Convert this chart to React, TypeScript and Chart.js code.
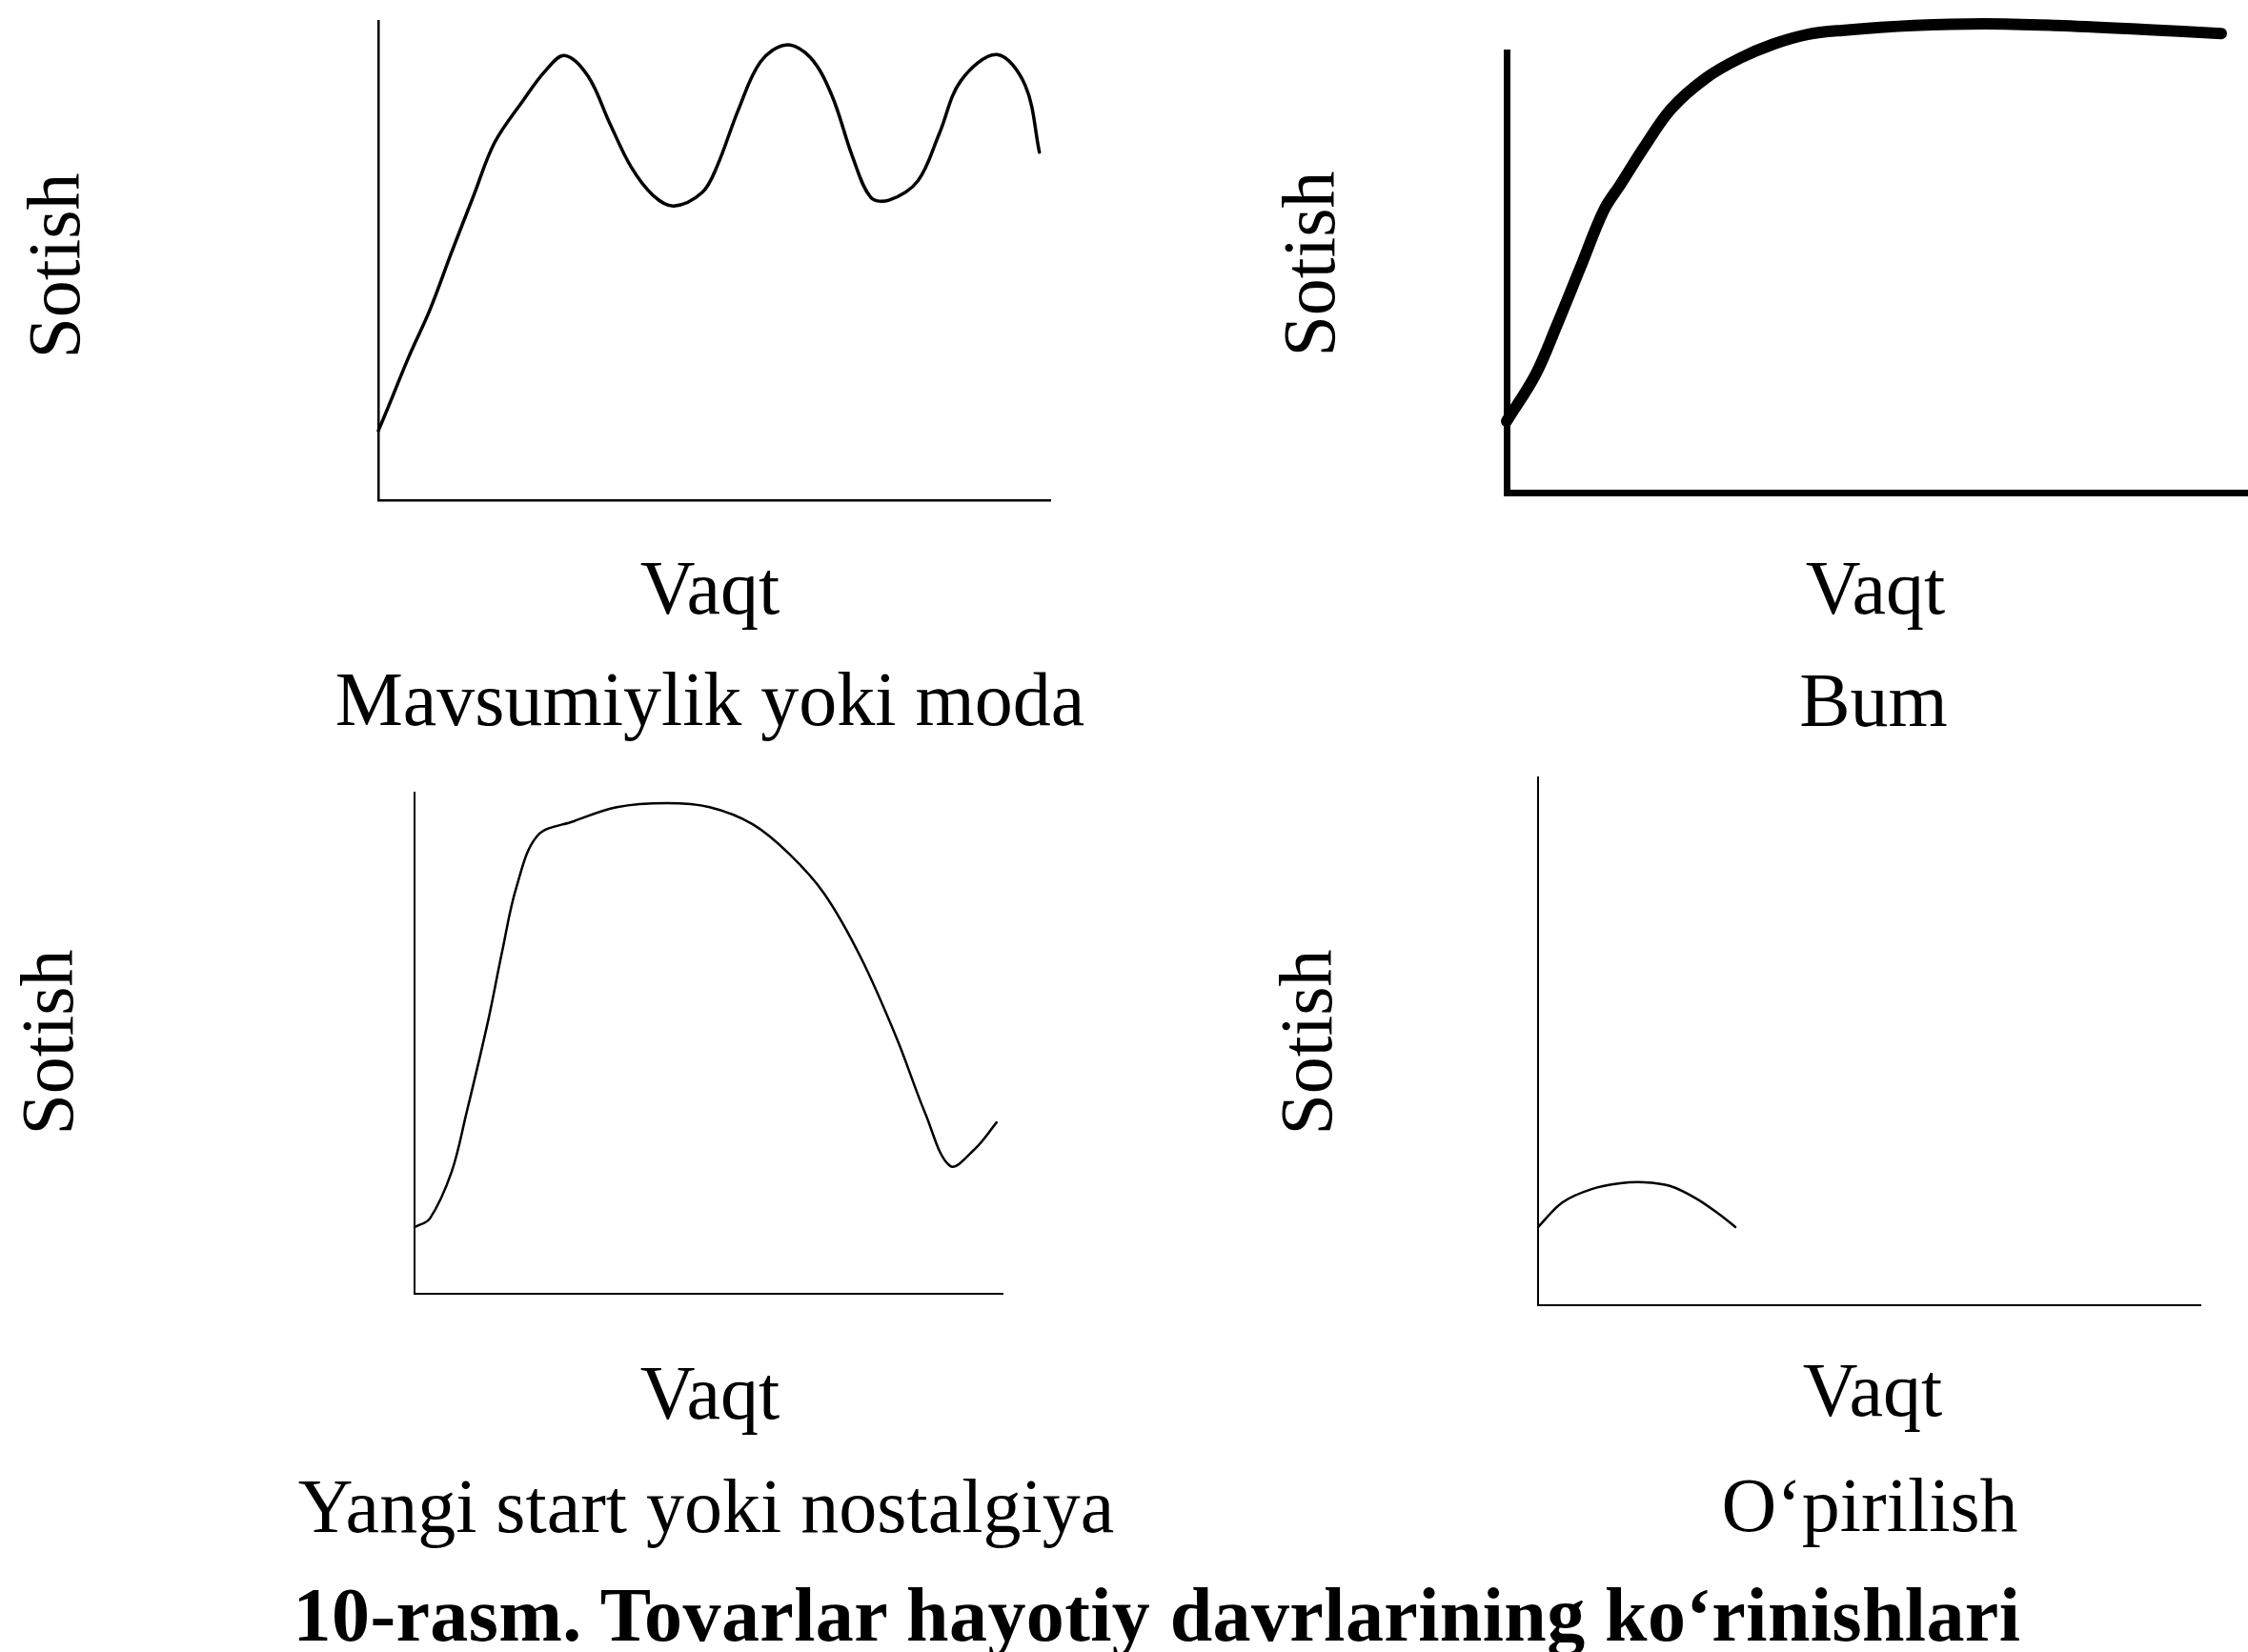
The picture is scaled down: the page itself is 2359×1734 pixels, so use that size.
import React, { useEffect, useRef } from "react";
import { Chart, registerables } from "chart.js";

Chart.register(...registerables);

// ---------- data (time = % of x-axis length, sales = % of y-axis height) ----------
const SEASON_TIME = [0, 1.5, 4.5, 7.7, 10.9, 14.2, 17.3, 21.6, 24.8, 27.7, 31.2, 34.5, 37.6, 40.9, 44.0, 48.2, 50.4, 53.6, 56.9, 60.7, 64.3, 67.5, 70.6, 73.3, 76.0, 80.3, 83.5, 86.7, 92.1, 96.3, 98.4];
const SEASON_SALES = [14.5, 19.5, 29.8, 39.8, 51.7, 63.6, 74.6, 83.5, 89.5, 92.8, 88.5, 78.5, 69.6, 63.6, 61.4, 64.2, 69.6, 81.5, 91.5, 95.0, 92.4, 84.5, 71.6, 63.2, 62.6, 66.6, 76.5, 87.5, 93.0, 86.5, 72.6];

const BOOM_TIME = [0, 3.9, 6.7, 9.9, 13.1, 15.4, 18.6, 22.2, 26.9, 31.5, 36.0, 40.6, 45.2, 54.9, 64.5, 74.2, 86.0, 96.4];
const BOOM_SALES = [16.2, 26.8, 37.7, 50.9, 64.1, 70.1, 78.6, 87.2, 94.2, 98.7, 101.9, 104.1, 105.0, 106.1, 106.5, 106.1, 105.2, 104.3];

const RESTART_TIME = [0, 2.6, 6.3, 8.8, 12.5, 14.9, 17.3, 20.9, 27.1, 34.4, 42.9, 50.2, 57.5, 63.7, 69.7, 75.9, 82.0, 86.9, 91.1, 95.3, 99.0];
const RESTART_SALES = [13.3, 15.0, 24.3, 35.9, 54.4, 68.3, 81.0, 91.4, 94.3, 97.1, 97.9, 97.1, 93.7, 87.8, 79.8, 67.1, 51.0, 35.9, 25.5, 28.9, 34.2];

const COLLAPSE_TIME = [0, 3.7, 8.1, 12.4, 16.0, 19.9, 23.9, 27.5, 29.8];
const COLLAPSE_SALES = [14.8, 19.5, 22.0, 23.1, 23.3, 22.6, 20.2, 17.1, 14.8];

const X_LABEL = "Vaqt";
const Y_LABEL = "Sotish";
const PANEL_TITLES = ["Mavsumiylik yoki moda", "Bum", "Yangi start yoki nostalgiya", "O‘pirilish"];
const CAPTION = "10-rasm. Tovarlar hayotiy davrlarining ko‘rinishlari";

// ---------- layout ----------
const W = 2359;
const H = 1734;
const PAD = 40;
const FONT = "'Liberation Serif', 'Times New Roman', Times, serif";

type Area = { left: number; top: number; right: number; bottom: number };

const PANELS = [
  {
    time: SEASON_TIME, sales: SEASON_SALES,
    area: { left: 397, top: 22, right: 1102, bottom: 525 },
    curveWidth: 3.5, axisWidth: 2.5,
    yLabel: { cx: 57, cy: 279 }, xLabel: { cx: 745, base: 644 }, title: { cx: 745, base: 761 },
  },
  {
    time: BOOM_TIME, sales: BOOM_SALES,
    area: { left: 1581, top: 55, right: 2359, bottom: 517 },
    curveWidth: 12, axisWidth: 7,
    yLabel: { cx: 1374, cy: 277 }, xLabel: { cx: 1968, base: 644 }, title: { cx: 1966, base: 762 },
  },
  {
    time: RESTART_TIME, sales: RESTART_SALES,
    area: { left: 435, top: 832, right: 1052, bottom: 1358 },
    curveWidth: 2.5, axisWidth: 2,
    yLabel: { cx: 50, cy: 1094 }, xLabel: { cx: 745, base: 1489 }, title: { cx: 741, base: 1608 },
  },
  {
    time: COLLAPSE_TIME, sales: COLLAPSE_SALES,
    area: { left: 1614, top: 816, right: 2309, bottom: 1370 },
    curveWidth: 2.5, axisWidth: 2,
    yLabel: { cx: 1371, cy: 1094 }, xLabel: { cx: 1965, base: 1486 }, title: { cx: 1962, base: 1607 },
  },
];

function Panel({ area, time, sales, curveWidth, axisWidth }: { area: Area; time: number[]; sales: number[]; curveWidth: number; axisWidth: number }) {
  const ref = useRef<HTMLCanvasElement | null>(null);
  const w = area.right - area.left + 2 * PAD;
  const h = area.bottom - area.top + 2 * PAD;
  useEffect(() => {
    if (!ref.current) return;
    const chart = new Chart(ref.current, {
      type: "line",
      data: {
        datasets: [
          {
            data: time.map((t, i) => ({ x: t, y: sales[i] })),
            borderColor: "#000",
            borderWidth: curveWidth,
            pointRadius: 0,
            tension: 0.35,
            fill: false,
            clip: false as any,
            borderCapStyle: "round",
            borderJoinStyle: "round",
          } as any,
        ],
      },
      options: {
        responsive: false,
        animation: false,
        events: [],
        layout: { padding: PAD },
        plugins: { legend: { display: false }, tooltip: { enabled: false }, title: { display: false } },
        scales: {
          x: {
            type: "linear", min: 0, max: 100,
            grid: { display: false, drawTicks: false },
            ticks: { display: false },
            border: { display: true, color: "#000", width: axisWidth },
          },
          y: {
            type: "linear", min: 0, max: 100,
            grid: { display: false, drawTicks: false },
            ticks: { display: false },
            border: { display: true, color: "#000", width: axisWidth },
          },
        },
      },
    });
    return () => chart.destroy();
  }, []);
  return (
    <canvas
      ref={ref}
      width={w}
      height={h}
      style={{ position: "absolute", left: area.left - PAD, top: area.top - PAD, width: w, height: h }}
    />
  );
}

function HText({ text, cx, base, size, bold, spacing }: { text: string; cx: number; base: number; size: number; bold?: boolean; spacing?: number }) {
  return (
    <div
      style={{
        position: "absolute", left: cx, top: base - 0.8375 * size, transform: "translateX(-50%)",
        fontFamily: FONT, fontSize: size, lineHeight: `${size}px`, whiteSpace: "nowrap",
        fontWeight: bold ? 700 : 400, color: "#000", letterSpacing: spacing ? `${spacing}px` : undefined,
      }}
    >
      {text}
    </div>
  );
}

function VText({ text, cx, cy, size }: { text: string; cx: number; cy: number; size: number }) {
  return (
    <div
      style={{
        position: "absolute", left: cx, top: cy, transform: "translate(-50%, -50%) rotate(-90deg)",
        fontFamily: FONT, fontSize: size, lineHeight: `${size}px`, whiteSpace: "nowrap", color: "#000",
      }}
    >
      {text}
    </div>
  );
}

export default function App() {
  return (
    <div style={{ position: "absolute", left: 0, top: 0, width: W, height: H, overflow: "hidden", background: "#fff" }}>
      {PANELS.map((p, i) => (
        <React.Fragment key={i}>
          <Panel area={p.area} time={p.time} sales={p.sales} curveWidth={p.curveWidth} axisWidth={p.axisWidth} />
          <VText text={Y_LABEL} cx={p.yLabel.cx} cy={p.yLabel.cy} size={78} />
          <HText text={X_LABEL} cx={p.xLabel.cx} base={p.xLabel.base} size={80} />
          <HText text={PANEL_TITLES[i]} cx={p.title.cx} base={p.title.base} size={80} />
        </React.Fragment>
      ))}
      <HText text={CAPTION} cx={1214} base={1722} size={80} bold spacing={0.4} />
    </div>
  );
}
